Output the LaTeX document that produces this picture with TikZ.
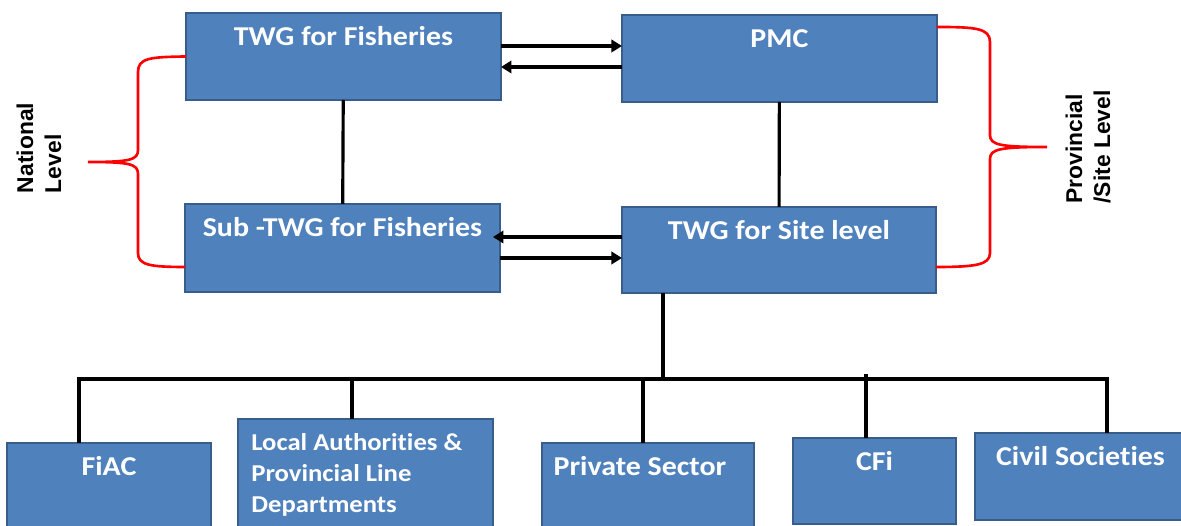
\documentclass[tikz,border=0pt]{standalone}
\usepackage{fontspec}
\newfontfamily\boxfont{Carlito}[FakeStretch=1.1,Ligatures=NoCommon]
\newfontfamily\sidefont{Liberation Sans}
\usepackage{tikz}
\usetikzlibrary{positioning,calc,arrows.meta}
\definecolor{boxfill}{HTML}{4F81BD}
\definecolor{boxline}{HTML}{385D8A}
\tikzset{block/.style={draw=boxline,fill=boxfill,line width=1.1pt,inner sep=0pt,outer sep=0pt,anchor=north west},
         boxtxt/.style={anchor=base,yshift=-0.66cm,inner sep=0pt,text=white,font=\boxfont\bfseries\fontsize{15.5}{17.6}\selectfont},
         side/.style={rotate=90,align=left,inner sep=0pt,font=\sidefont\bfseries\fontsize{13}{15.9}\selectfont},
         conn/.style={line width=1.8pt},
         brace/.style={red,line width=1.5pt}
}
\tikzstyle{arrow} = [line width=1.8pt,-{Triangle[length=6pt,width=7pt]}]

\begin{document}
\begin{tikzpicture}[x=0.02cm,y=-0.02cm]
\useasboundingbox (0,0) rectangle (1181,526);
\clip (0,0) rectangle (1181,526);

\node[block,minimum width=6.30cm,minimum height=1.74cm,label={[boxtxt]north:TWG for Fisheries}] (twgf) at (186,13) {};
\node[block,minimum width=6.30cm,minimum height=1.74cm,label={[boxtxt]north:PMC}] (pmc) at (622,15) {};
\node[block,minimum width=6.30cm,minimum height=1.76cm,label={[boxtxt]north:Sub -TWG for Fisheries}] (subtwg) at (185,204) {};
\node[block,minimum width=6.28cm,minimum height=1.72cm,label={[boxtxt]north:TWG for Site level}] (site) at (622,207) {};

\node[block,minimum width=4.08cm,minimum height=1.84cm,label={[boxtxt]north:FiAC}] (fiac) at (7,443) {};
\node[block,minimum width=5.10cm,minimum height=2.32cm,label={[boxtxt,font=\boxfont\bfseries\fontsize{13.8}{17.6}\selectfont,anchor=base west,align=left,xshift=0.26cm,yshift=-34.4pt]north west:Local Authorities \&\\Provincial Line\\Departments}] (local) at (238,419) {};
\node[block,minimum width=4.24cm,minimum height=1.84cm,label={[boxtxt,xshift=-0.16cm]north:Private Sector}] (private) at (542,443) {};
\node[block,minimum width=3.26cm,minimum height=1.72cm,label={[boxtxt]north:CFi}] (cfi) at (793,438) {};
\node[block,minimum width=4.22cm,minimum height=1.74cm,label={[boxtxt]north:Civil Societies}] (civil) at (975,433) {};

\node[side] (national) at (39,148) {National\\Level};
\node[side] (provincial) at (1088,147) {Provincial\\/Site Level};

\draw[arrow] ($(twgf.east)+(0,-10.5)$) coordinate (a1) -- (a1 -| pmc.west);
\draw[arrow] ($(pmc.west)+(0,8.5)$) coordinate (a2) -- (a2 -| twgf.east);
\draw[arrow,shorten >=-0.14cm] ($(site.west)+(0,-13)$) coordinate (a3) -- (a3 -| subtwg.east);
\draw[arrow] ($(subtwg.east)+(0,10)$) coordinate (a4) -- (a4 -| site.west);

\draw[conn] (twgf) -- (subtwg);
\draw[conn] (pmc) -- (site);

\coordinate (jsite) at (663,379);
\coordinate (jfiac) at (79,379);
\coordinate (jlocal) at (352,379);
\coordinate (jpriv) at (643,379);
\coordinate (jcfi) at (866,374);
\coordinate (jcivil) at (1107,379);
\draw[conn] (jsite |- site.south) -- (jsite);
\draw[conn] (jfiac |- fiac.north) -- (jfiac) -- (jcivil) -- (jcivil |- civil.north);
\draw[conn] (jlocal) -- (jlocal |- local.north);
\draw[conn] (jpriv) -- (jpriv |- private.north);
\draw[conn] (jcfi) -- (jcfi |- cfi.north);

\draw[brace] (twgf.west) .. controls (150,57) and (138,58) .. (138,72) -- (138,150)
  .. controls (138,160) and (130,162) .. (88,162)
  .. controls (130,162) and (138,164) .. (138,174) -- (138,253)
  .. controls (138,265) and (150,267) .. ($(subtwg.south west)+(0,-25)$);
\draw[brace] ($(pmc.north east)+(0,12)$) .. controls (975,27) and (990,28) .. (990,42) -- (990,135)
  .. controls (990,145) and (1000,147) .. (1047,147)
  .. controls (1000,147) and (990,149) .. (990,159) -- (990,253)
  .. controls (990,265) and (975,267) .. ($(site.south east)+(0,-26)$);

\end{tikzpicture}
\end{document}
